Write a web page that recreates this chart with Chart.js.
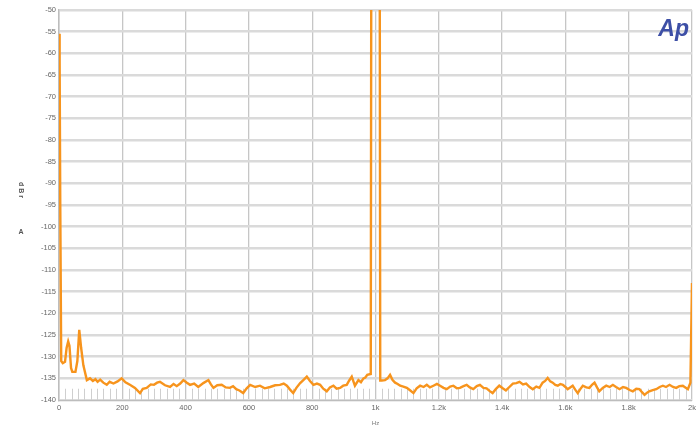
<!DOCTYPE html>
<html>
<head>
<meta charset="utf-8">
<script src="https://cdn.jsdelivr.net/npm/chart.js@4"></script>
<style>
html,body{margin:0;padding:0;background:#fff;}
#wrap{width:696px;height:427px;position:relative;}
</style>
</head>
<body>
<div id="wrap"><canvas id="c" width="696" height="427"></canvas></div>
<script>
const freqsHz = [0, 2, 4, 7, 12, 19, 24, 29, 33, 38, 42, 52, 58, 64, 70, 77, 88, 98, 107, 115, 122, 130, 140, 151, 160, 172, 185, 198, 210, 224, 240, 256, 265, 277, 290, 300, 310, 319, 335, 351, 362, 372, 383, 393, 404, 414, 427, 440, 456, 472, 480, 488, 500, 514, 527, 540, 550, 560, 570, 582, 593, 604, 620, 635, 650, 667, 683, 698, 710, 720, 730, 740, 750, 762, 772, 783, 793, 804, 815, 825, 835, 846, 856, 867, 877, 888, 898, 909, 917, 925, 935, 946, 954, 962, 968, 974, 985, 987, 1000, 1013, 1015, 1020, 1030, 1038, 1046, 1054, 1062, 1070, 1078, 1088, 1099, 1110, 1120, 1130, 1141, 1152, 1162, 1172, 1183, 1194, 1204, 1215, 1225, 1236, 1246, 1257, 1267, 1278, 1288, 1298, 1309, 1320, 1330, 1341, 1351, 1360, 1370, 1380, 1391, 1402, 1412, 1423, 1434, 1445, 1455, 1466, 1476, 1487, 1497, 1508, 1518, 1528, 1536, 1544, 1552, 1560, 1568, 1576, 1584, 1592, 1600, 1607, 1615, 1623, 1631, 1639, 1647, 1655, 1666, 1676, 1684, 1692, 1700, 1707, 1718, 1729, 1740, 1750, 1760, 1771, 1782, 1792, 1803, 1813, 1824, 1834, 1842, 1850, 1858, 1865, 1876, 1887, 1898, 1908, 1918, 1929, 1940, 1950, 1960, 1971, 1979, 1987, 1995, 2000];
const levelsDbrA = [-55.5, -62, -95, -131, -131.5, -131.2, -128, -126.5, -127.5, -132.6, -133.5, -133.5, -131, -123.8, -128, -132, -135.4, -135, -135.6, -135.2, -135.8, -135.3, -136, -136.5, -135.8, -136.2, -135.7, -135, -135.9, -136.5, -137.2, -138.4, -137.4, -137.2, -136.4, -136.5, -136, -135.8, -136.6, -137, -136.3, -136.8, -136.2, -135.4, -136, -136.5, -136.2, -137, -136.1, -135.4, -136.4, -137.2, -136.6, -136.5, -137.1, -137.2, -136.8, -137.5, -137.8, -138.4, -137.3, -136.5, -137, -136.7, -137.3, -137, -136.6, -136.5, -136.2, -136.7, -137.6, -138.4, -137.2, -136.1, -135.4, -134.6, -135.6, -136.5, -136.2, -136.5, -137.4, -138, -137.1, -136.7, -137.4, -137.2, -136.7, -136.5, -135.5, -134.6, -136.7, -135.4, -135.9, -135, -134.8, -134.2, -134, -20, 0, -20, -135.5, -135.5, -135.4, -135, -134.2, -135.4, -136, -136.3, -136.7, -136.9, -137.2, -137.8, -138.4, -137.3, -136.7, -137, -136.5, -137.1, -136.7, -136.3, -136.7, -137.2, -137.5, -136.9, -136.7, -137.3, -137.2, -136.8, -136.5, -137.1, -137.5, -136.8, -136.5, -137.2, -137.3, -137.9, -138.4, -137.5, -136.7, -137.3, -137.8, -137, -136.2, -136.1, -135.8, -136.4, -136.2, -137, -137.5, -136.9, -137.2, -136, -135.6, -134.9, -135.7, -136, -136.5, -136.7, -136.3, -136.5, -137, -137.5, -137.1, -136.7, -137.6, -138.4, -137.5, -136.7, -137.1, -137.2, -136.5, -136, -137.1, -138, -137.2, -136.7, -137, -136.5, -137, -137.5, -137, -137.2, -137.7, -138, -137.4, -137.5, -138.2, -138.8, -138.3, -138, -137.7, -137.5, -137, -136.7, -137, -136.5, -137, -137.2, -136.8, -136.7, -137.1, -137.5, -136, -113];
const xTickValues = [0, 200, 400, 600, 800, 1000, 1200, 1400, 1600, 1800, 2000];
const xTickLabels = ['0', '200', '400', '600', '800', '1k', '1.2k', '1.4k', '1.6k', '1.8k', '2k'];
const yMin = -140, yMax = -50, yStep = 5;
const xMin = 0, xMax = 2000;
const minorTickStepHz = 20;
const xAxisTitle = 'Hz';
const yAxisTitleRot = 'dBr';
const yAxisTitleUp = 'A';
const logoText = 'Ap';

const points = freqsHz.map((f, i) => ({x: f, y: levelsDbrA[i]}));

const extras = {
  id: 'extras',
  beforeDatasetsDraw(chart) {
    const ctx = chart.ctx, xs = chart.scales.x, ys = chart.scales.y;
    ctx.save();
    ctx.strokeStyle = '#cfcfcf';
    ctx.lineWidth = 1;
    const yb = ys.getPixelForValue(yMin), yt = ys.getPixelForValue(-137.4);
    for (let f = xMin + minorTickStepHz; f < xMax; f += minorTickStepHz) {
      if (f % 200 === 0) continue;
      const px = Math.round(xs.getPixelForValue(f)) + 0.5;
      ctx.beginPath(); ctx.moveTo(px, yb); ctx.lineTo(px, yt); ctx.stroke();
    }
    ctx.restore();
  },
  afterDraw(chart) {
    const ctx = chart.ctx, ca = chart.chartArea;
    ctx.save();
    ctx.fillStyle = '#3d4fa6';
    ctx.font = 'italic bold 23px "Liberation Sans", Arial, sans-serif';
    ctx.textAlign = 'right';
    ctx.textBaseline = 'middle';
    ctx.fillText(logoText, ca.right - 3, 30);
    ctx.fillStyle = '#555';
    ctx.font = 'bold 7px "Liberation Sans", Arial, sans-serif';
    ctx.textAlign = 'center';
    ctx.textBaseline = 'middle';
    ctx.save();
    ctx.translate(21, 190);
    ctx.rotate(Math.PI / 2);
    ctx.fillText(yAxisTitleRot.split('').join(' '), 0, 0);
    ctx.restore();
    ctx.fillText(yAxisTitleUp, 21, 232);
    ctx.restore();
  }
};

new Chart(document.getElementById('c'), {
  type: 'line',
  data: {
    datasets: [{
      data: points,
      borderColor: '#f7941d',
      borderWidth: 2.4,
      pointRadius: 0,
      tension: 0,
      fill: false,
      clip: 0
    }]
  },
  options: {
    responsive: false,
    animation: false,
    devicePixelRatio: 1,
    layout: {padding: {top: 10, right: 4, left: 0, bottom: 0}},
    plugins: {legend: {display: false}, tooltip: {enabled: false}, title: {display: false}},
    scales: {
      x: {
        type: 'linear',
        min: xMin, max: xMax,
        afterBuildTicks(scale) { scale.ticks = xTickValues.map(v => ({value: v})); },
        afterFit(scale) { scale.height = 27; scale.paddingRight = 0; scale.paddingLeft = 0; },
        ticks: {
          autoSkip: false, maxRotation: 0, padding: 3,
          color: '#666',
          font: {size: 7.5, family: '"Liberation Sans", Arial, sans-serif'},
          callback(v) { const i = xTickValues.indexOf(v); return i >= 0 ? xTickLabels[i] : ''; }
        },
        grid: {color: '#c6c6c6', lineWidth: 1.3, drawTicks: false},
        border: {color: '#bdbdbd', width: 1},
        title: {display: true, text: xAxisTitle, color: '#777', padding: 0,
                font: {size: 6, family: '"Liberation Sans", Arial, sans-serif'}}
      },
      y: {
        min: yMin, max: yMax,
        afterFit(scale) { scale.width = 59; scale.paddingTop = 0; scale.paddingBottom = 0; },
        ticks: {
          stepSize: yStep, padding: 3, color: '#666',
          font: {size: 7.5, family: '"Liberation Sans", Arial, sans-serif'}
        },
        grid: {color: '#dadada', lineWidth: 2.4, drawTicks: false},
        border: {color: '#bdbdbd', width: 1.5}
      }
    }
  },
  plugins: [extras]
});
</script>
</body>
</html>
